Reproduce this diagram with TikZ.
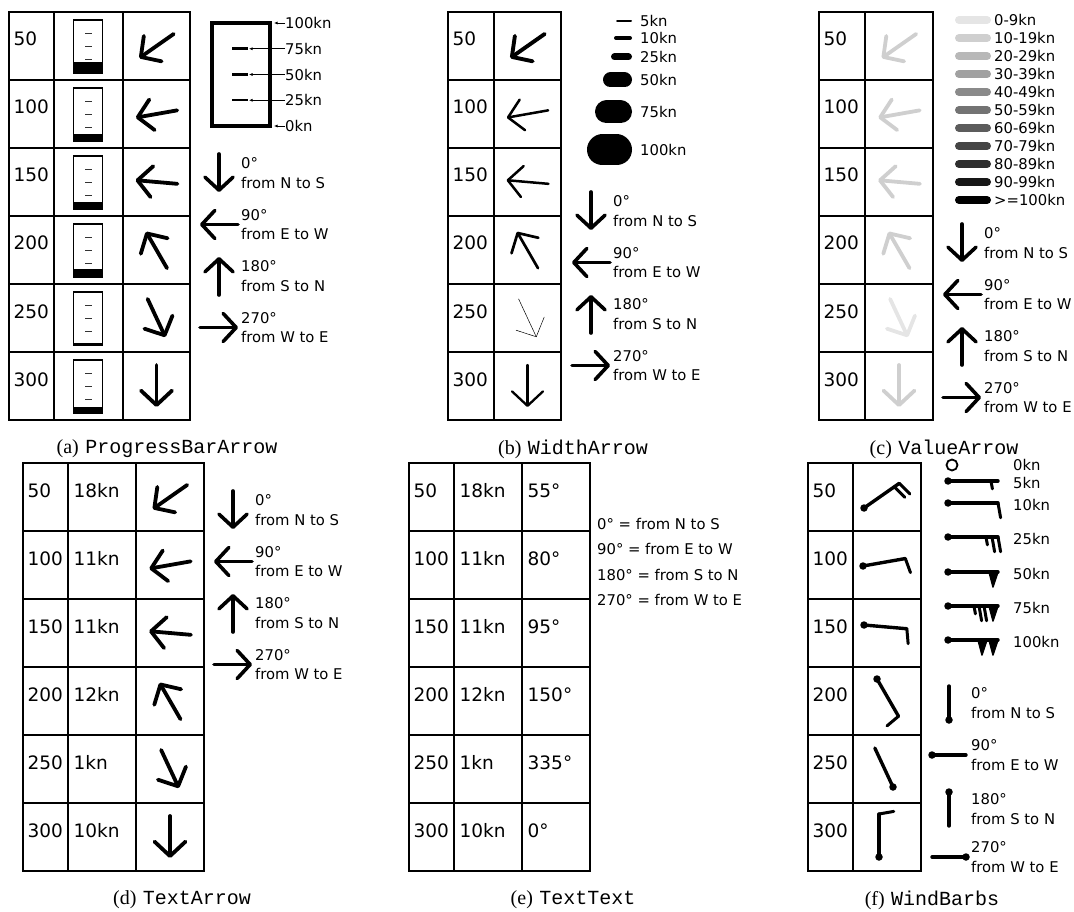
\documentclass[tikz,border=0pt]{standalone}
\usepackage{fontspec}
\setmainfont{DejaVu Sans}
\setmonofont{Liberation Mono}
\newfontfamily\capfont{Liberation Serif}
\usetikzlibrary{arrows.meta}

\begin{document}
\begin{tikzpicture}[
    x=1pt, y=-1pt,
    gridline/.style={line width=1.8pt, line cap=rect},
    rowlab/.style={anchor=base west, inner sep=0pt, font=\fontsize{18.5}{20}\selectfont},
    legtext/.style={anchor=west, inner sep=0pt, align=left, font=\fontsize{14.8}{19.5}\selectfont},
    captext/.style={inner sep=0pt, font=\fontsize{20}{22}\selectfont},
    tabarrow/.style={line width=3.8pt, line cap=round, -{Straight Barb[length=14.5pt, width=31pt, round]}},
    legarrow/.style={line width=3.6pt, line cap=round, -{Straight Barb[length=13pt, width=28pt, round]}},
    staff/.style={line width=3.4pt, line cap=round, line join=round},
    barb/.style={line width=3pt, line cap=round},
    pennant/.style={fill, draw, line width=1.5pt, line join=round},
    station/.style={circle, fill, inner sep=0pt, minimum size=7.5pt}
]
    \useasboundingbox (0,0) rectangle (1074,912);

    % Tables
    \foreach \r in {0,...,6} {
        \draw[gridline] (9,12+68*\r) -- (190,12+68*\r);
        \draw[gridline] (448,12+68*\r) -- (561,12+68*\r);
        \draw[gridline] (819,12+68*\r) -- (933,12+68*\r);
        \draw[gridline] (23,463+68*\r) -- (204,463+68*\r);
        \draw[gridline] (409,463+68*\r) -- (590,463+68*\r);
        \draw[gridline] (808,463+68*\r) -- (921,463+68*\r);
    }
    \foreach \c in {9,54,123,190,448,494,561,819,865,933} \draw[gridline] (\c,12) -- (\c,420);
    \foreach \c in {23,68,136,204,409,454,522,590,808,853,921} \draw[gridline] (\c,463) -- (\c,871);

    % Rows: height / speed / direction / station offset / barbs
    \foreach \hv/\sv/\dv/\ox/\oy/\nb [count=\i from 0] in {50/18/55/-23/11/2, 100/11/80/-24/1/1, 150/11/95/-23/-8/1, 200/12/150/-10/-22/1, 250/1/335/6/18/0, 300/10/0/-8/20/1} {
        \pgfmathsetmacro\ya{46+68*\i}
        \pgfmathsetmacro\yd{497+68*\i}
        \node[rowlab] (a-h\i) at (13.5,\ya) {\hv};
        \node[rowlab] (b-h\i) at (452.5,\ya) {\hv};
        \node[rowlab] (c-h\i) at (823.5,\ya) {\hv};
        \node[rowlab] (d-h\i) at (27.5,\yd) {\hv};
        \node[rowlab] (e-h\i) at (413.5,\yd) {\hv};
        \node[rowlab] (f-h\i) at (812.5,\yd) {\hv};
        \node[rowlab] (d-s\i) at (73.5,\yd) {\sv kn};
        \node[rowlab] (e-s\i) at (459.5,\yd) {\sv kn};
        \node[rowlab] (e-d\i) at (527.5,\yd) {{\dv}°};
        % progress bar
        \fill (73.5,\ya+27) rectangle (102.5,\ya+26-0.55*\sv);
        \draw[line width=1.8pt] (73.5,\ya-26) rectangle (102.5,\ya+27);
        \foreach \t in {-12.5,0.5,13.5} \draw[line width=1.2pt, black!80] (85,\ya+\t) -- (92,\ya+\t);
        % arrows
        \draw[tabarrow] (156.5,\ya) ++(\dv+270:21) -- ++(\dv+90:42);
        \pgfmathsetmacro\lw{0.2*\sv+0.3}
        \draw[tabarrow, line width=\lw pt] (527.5,\ya) ++(\dv+270:21) -- ++(\dv+90:42);
        \pgfmathtruncatemacro\gv{10+9*int(\sv/10)}
        \draw[tabarrow, draw=black!\gv] (899,\ya) ++(\dv+270:21) -- ++(\dv+90:42);
        \draw[tabarrow] (170,\yd) ++(\dv+270:21) -- ++(\dv+90:42);
        % wind barb
        \node[station] (f-st\i) at (887+\ox,\yd+\oy) {};
        \draw[staff] (f-st\i.center) -- ++(\dv-90:43) coordinate (f-tip\i);
        \ifnum\nb>0
            \foreach \k in {1,...,\nb} \draw[barb] (f-tip\i) ++(\dv+90:6*\k-6) -- ++(\dv-10:15);
        \fi
    }

    % Direction legends
    \foreach \lx/\ly [count=\p] in {219/173, 591/211, 962/243, 233/510} {
        \foreach \dv/\txt [count=\k from 0] in {0/from N to S, 90/from E to W, 180/from S to N, 270/from W to E} {
            \draw[legarrow] (\lx,\ly+51.5*\k) ++(\dv+270:19) -- ++(\dv+90:38);
            \node[legtext] (dir-\p-\k) at (\lx+22,\ly+51.5*\k) {{\dv}°\\\txt};
        }
    }

    % Progress bar legend
    \draw[line width=4pt] (212,23) rectangle (270,126);
    \foreach \pv in {25,50,75} \draw[line width=2.5pt] (232,126-1.03*\pv) -- (248,126-1.03*\pv);
    \foreach \pv/\tx in {100/274, 75/249, 50/249, 25/249, 0/274} {
        \pgfmathsetmacro\yp{126-1.03*\pv}
        \node[legtext] (pb-\pv) at (285,\yp) {\pv kn};
        \draw[line width=0.8pt, -{Latex[length=3.5pt, width=3pt]}] (pb-\pv.west) -- (\tx,\yp);
    }

    % Width legend
    \foreach \v/\w/\yv in {5/2/21, 10/4/38, 25/7/57, 50/15/80, 75/23/112, 100/31/150} {
        \draw[line width=\w pt, line cap=round] (618-\w/2,\yv) -- (632-\w/2,\yv);
        \node[legtext] (wl-\v) at (640,\yv) {\v kn};
    }

    % Value legend
    \foreach \lab [count=\k from 0] in {0-9kn, 10-19kn, 20-29kn, 30-39kn, 40-49kn, 50-59kn, 60-69kn, 70-79kn, 80-89kn, 90-99kn, >=100kn} {
        \pgfmathtruncatemacro\gv{10+9*\k}
        \draw[line width=8pt, line cap=round, draw=black!\gv] (959,20+18*\k) -- (987,20+18*\k);
        \node[legtext] (vl-\k) at (994,20+18*\k) {\lab};
    }

    % Text legend
    \foreach \txt [count=\k from 0] in {0° = from N to S, 90° = from E to W, 180° = from S to N, 270° = from W to E}
        \node[legtext] (tl-\k) at (597,524+25.3*\k) {\txt};

    % Wind barb legend
    \node[circle, draw, line width=1.8pt, minimum size=11pt, inner sep=0pt] (fs-0) at (952,465) {};
    \node[legtext] (fl-0) at (1013,465) {0kn};
    \foreach \yv/\lab [count=\k] in {481/5kn, 503/10kn, 537/25kn, 572/50kn, 606/75kn, 640/100kn} {
        \node[station] (fs-\k) at (948,\yv) {};
        \draw[staff] (fs-\k.center) -- (998,\yv);
        \node[legtext] (fl-\k) at (1013,\yv+2) {\lab};
    }
    \draw[barb] (991,481) -- ++(80:8);
    \draw[barb] (998,503) -- ++(80:15);
    \draw[barb] (998,537) -- ++(80:15) (992,537) -- ++(80:15) (986,537) -- ++(80:8);
    \path[pennant] (989,572) -- (998,572) -- (993,587) -- cycle;
    \path[pennant] (989,606) -- (998,606) -- (993,621) -- cycle;
    \draw[barb] (984,606) -- ++(80:15) (979,606) -- ++(80:15) (974,606) -- ++(80:8);
    \path[pennant] (989,640) -- (998,640) -- (993,655) -- cycle;
    \path[pennant] (978,640) -- (987,640) -- (982,655) -- cycle;

    % Wind barb directions
    \foreach \dv/\txt/\fy [count=\k] in {0/from N to S/703, 90/from E to W/755, 180/from S to N/809, 270/from W to E/857} {
        \path (949,\fy) ++(\dv+90:17) node[station] (fd-\k) {};
        \draw[staff] (fd-\k.center) -- ++(\dv-90:34);
        \node[legtext] (fdl-\k) at (971,\fy) {{\dv}°\\\txt};
    }

    % Captions
    \node[captext] (cap-a) at (167,449) {{\capfont (a)} \texttt{ProgressBarArrow}};
    \node[captext] (cap-b) at (573,449) {{\capfont (b)} \texttt{WidthArrow}};
    \node[captext] (cap-c) at (944,449) {{\capfont (c)} \texttt{ValueArrow}};
    \node[captext] (cap-d) at (182,900) {{\capfont (d)} \texttt{TextArrow}};
    \node[captext] (cap-e) at (573,900) {{\capfont (e)} \texttt{TextText}};
    \node[captext] (cap-f) at (932,900) {{\capfont (f)} \texttt{WindBarbs}};
\end{tikzpicture}
\end{document}
